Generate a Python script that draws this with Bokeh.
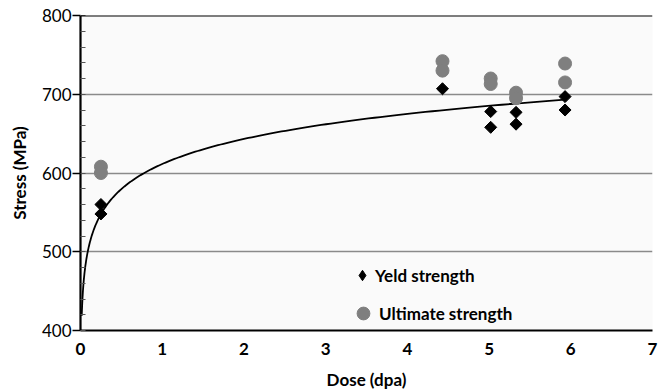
import numpy as np
from bokeh.plotting import figure
from bokeh.models import Legend, LegendItem, Span, FixedTicker, Range1d
from bokeh.embed import file_html
from bokeh.resources import INLINE

# ---- data ----
dose_yield = [0.25, 0.25, 4.43, 5.02, 5.02, 5.33, 5.33, 5.93, 5.93]
yield_mpa = [560, 548, 707, 678, 658, 677, 662, 697, 680]

dose_ult = [0.25, 0.25, 4.43, 4.43, 5.02, 5.02, 5.33, 5.33, 5.93, 5.93]
ult_mpa = [608, 600, 742, 730, 720, 713, 702, 695, 739, 715]

# logarithmic trend line  y = a*ln(x) + b  (coefficients)
trend_a = 45.9
trend_b = 611.4
trend_start, trend_end = 0.015, 5.93

x_ticks = [0, 1, 2, 3, 4, 5, 6, 7]
y_ticks = [400, 500, 600, 700, 800]
series_labels = ["Yeld strength", "Ultimate strength"]

FONT = "Lato"

p = figure(width=668, height=392, output_backend="svg", toolbar_location=None,
           x_range=Range1d(0, 7), y_range=Range1d(400, 800),
           min_border_left=80, min_border_right=16, min_border_top=15, min_border_bottom=59)
p.background_fill_color = "#fafafa"
p.border_fill_color = "white"
p.outline_line_color = None

# grid
p.xgrid.visible = False
p.ygrid.ticker = FixedTicker(ticks=[500, 600, 700])
p.ygrid.grid_line_color = "#8a8a8a"
p.ygrid.grid_line_width = 1.3
p.add_layout(Span(location=800, dimension="width", line_color="black", line_width=2.2))

# axes
p.xaxis.ticker = FixedTicker(ticks=x_ticks)
p.yaxis.ticker = FixedTicker(ticks=y_ticks, minor_ticks=list(range(400, 801, 20)))
p.xaxis.axis_label = "Dose (dpa)"
p.yaxis.axis_label = "Stress (MPa)"
for ax in (p.xaxis, p.yaxis):
    ax.axis_line_color = "black"
    ax.axis_line_width = 2.2
    ax.axis_label_text_font = FONT
    ax.axis_label_text_font_style = "bold"
    ax.axis_label_text_font_size = "17px"
    ax.axis_label_text_color = "black"
    ax.major_label_text_font = FONT
    ax.major_label_text_font_size = "17px"
    ax.major_label_text_color = "black"
p.xaxis.major_label_text_font_style = "bold"
p.xaxis.major_tick_line_color = None
p.xaxis.minor_tick_line_color = None
p.xaxis.major_label_standoff = 6
p.xaxis.axis_label_standoff = 11
p.yaxis.major_tick_in = 0
p.yaxis.major_tick_out = 8
p.yaxis.major_tick_line_color = "black"
p.yaxis.major_tick_line_width = 1.5
p.yaxis.minor_tick_in = 5
p.yaxis.minor_tick_out = 0
p.yaxis.minor_tick_line_color = "#555555"
p.yaxis.major_label_standoff = 1
p.yaxis.axis_label_standoff = 9

# trend line
tx = np.geomspace(trend_start, trend_end, 300)
ty = trend_a * np.log(tx) + trend_b
p.line(tx, ty, line_color="black", line_width=1.8)

# points
r_ult = p.scatter(dose_ult, ult_mpa, marker="circle", size=13,
                  fill_color="#7f7f7f", line_color="#7f7f7f")
r_yld = p.scatter(dose_yield, yield_mpa, marker="square", size=8.5, angle=np.pi / 4,
                  fill_color="black", line_color="black")

# hidden twins of the series, used only for the legend symbols
leg_yld = p.scatter(dose_yield, yield_mpa, marker="diamond", fill_color="black",
                    line_color="black", visible=False)
leg_ult = p.scatter(dose_ult, ult_mpa, marker="circle", fill_color="#7f7f7f",
                    line_color="#7f7f7f", visible=False)


def make_legend(label, renderer, glyph, standoff, loc):
    lg = Legend(items=[LegendItem(label=label, renderers=[renderer])], location=loc)
    lg.label_text_font = FONT
    lg.label_text_font_style = "bold"
    lg.label_text_font_size = "17px"
    lg.label_text_color = "black"
    lg.border_line_color = None
    lg.background_fill_alpha = 0
    lg.inactive_fill_alpha = 0
    lg.padding = 5
    lg.glyph_width = glyph
    lg.glyph_height = glyph
    lg.label_height = glyph
    lg.label_standoff = standoff
    lg.margin = 0
    return lg


p.add_layout(make_legend(series_labels[0], leg_yld, 26, -3, (269, 42)))
p.add_layout(make_legend(series_labels[1], leg_ult, 32, -7, (267, 1)))

open("out.html", "w").write(file_html(p, INLINE))
